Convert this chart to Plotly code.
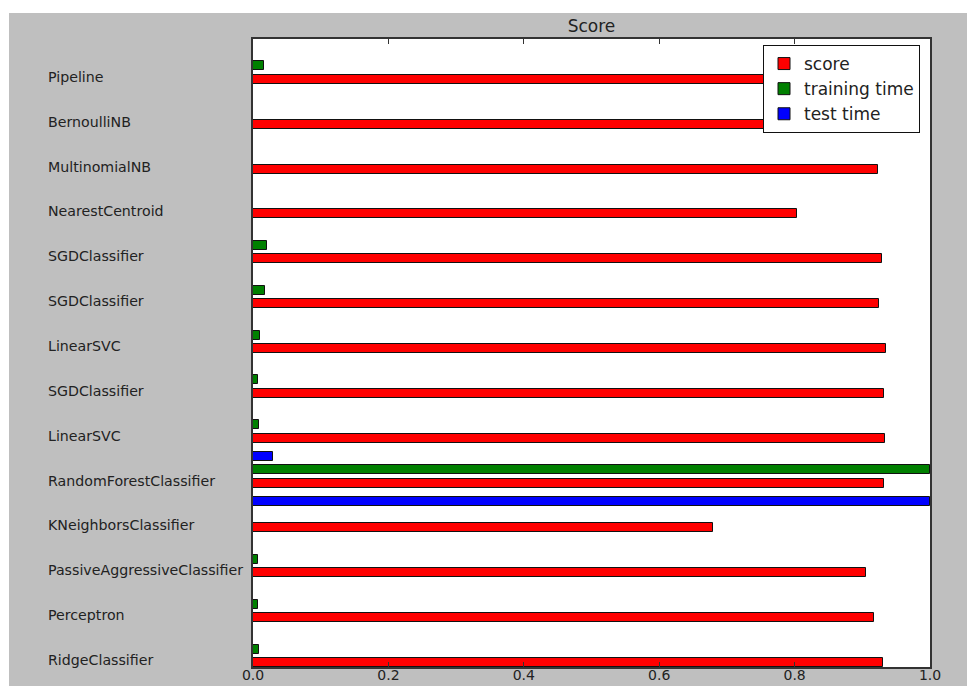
import numpy as np
import plotly.graph_objects as go

# Classifier names, bottom (index 0) to top
clf_names = [
    "RidgeClassifier", "Perceptron", "PassiveAggressiveClassifier",
    "KNeighborsClassifier", "RandomForestClassifier", "LinearSVC",
    "SGDClassifier", "LinearSVC", "SGDClassifier", "SGDClassifier",
    "NearestCentroid", "MultinomialNB", "BernoulliNB", "Pipeline",
]
# Accuracy on the test set
score = [0.930, 0.918, 0.905, 0.679, 0.932, 0.934, 0.932,
         0.935, 0.924, 0.929, 0.803, 0.923, 0.870, 0.880]
# Training / test times, normalised by their maximum
training_time = [0.009, 0.007, 0.008, 0.0, 1.0, 0.009, 0.008,
                 0.011, 0.018, 0.020, 0.0, 0.0, 0.0, 0.016]
test_time = [0.0, 0.0, 0.0, 1.0, 0.029, 0.0, 0.0,
             0.0, 0.0, 0.0, 0.0, 0.0, 0.0, 0.0]
x_ticks = [0.0, 0.2, 0.4, 0.6, 0.8, 1.0]

indices = np.arange(len(clf_names))
bar_h = 0.2
FONT = "DejaVu Sans"
W, H = 967, 686
L, R, T, B = 253, 37, 39, 19
Y_MAX = 14.0

fig = go.Figure()
series = [
    ("score", score, 0.0, "#ff0000"),
    ("training time", training_time, 0.3, "#008000"),
    ("test time", test_time, 0.6, "#0000ff"),
]
for name, vals, off, col in series:
    fig.add_trace(go.Bar(
        x=vals, y=indices + off + bar_h / 2, width=bar_h,
        orientation="h", name=name, legendgroup=name,
        marker=dict(color=col, line=dict(color="#111111", width=1)),
    ))

# Classifier names written to the left of the axes (x in axes fraction,
# which equals data units since the x range is [0, 1])
for i, c in zip(indices, clf_names):
    fig.add_annotation(
        x=-0.3, y=float(i) / Y_MAX, xref="paper", yref="paper", text=c,
        showarrow=False, xanchor="left", yanchor="middle",
        xshift=-4, yshift=7,
        font=dict(family=FONT, size=14.2, color="#222222"),
    )

# White page border around the grey figure
px_w = (W - L - R)
px_h = (H - T - B)
fig.add_shape(type="rect", xref="paper", yref="paper", layer="above",
              x0=-L / px_w, x1=(-L + 9) / px_w, y0=-B / px_h, y1=(H - B) / px_h,
              fillcolor="white", line=dict(width=0))
fig.add_shape(type="rect", xref="paper", yref="paper", layer="above",
              x0=-L / px_w, x1=(W - L) / px_w, y0=(H - B - 13) / px_h, y1=(H - B) / px_h,
              fillcolor="white", line=dict(width=0))

fig.update_layout(
    width=W, height=H,
    margin=dict(l=L, r=R, t=T, b=B, pad=0),
    paper_bgcolor="#bfbfbf", plot_bgcolor="white",
    font=dict(family=FONT, size=14, color="#222222"),
    barmode="overlay", bargap=0,
    title=dict(text="Score", x=(L + px_w / 2) / W, xanchor="center",
               y=1 - 26 / H, yanchor="middle", yref="container",
               font=dict(family=FONT, size=17, color="#222222")),
    showlegend=True,
    legend=dict(
        x=(920 - L) / px_w, xanchor="right", y=1 - (45 - T) / px_h, yanchor="top",
        bgcolor="white", bordercolor="#111111", borderwidth=1,
        font=dict(family=FONT, size=17, color="#222222"),
        tracegroupgap=1, traceorder="normal", itemwidth=30,
    ),
    xaxis=dict(
        range=[0, 1], tickvals=x_ticks, tickformat=".1f",
        ticks="inside", ticklen=5, tickcolor="#333333",
        showline=True, linecolor="#333333", linewidth=1.5, mirror="ticks",
        showgrid=False, zeroline=False, automargin=False,
        ticklabelstandoff=-6,
        tickfont=dict(family=FONT, size=14, color="#222222"),
    ),
    yaxis=dict(
        range=[0, Y_MAX], showticklabels=False, ticks="",
        showline=True, linecolor="#333333", linewidth=1.5, mirror=True,
        showgrid=False, zeroline=False, automargin=False,
    ),
)

fig.write_html("out.html")
